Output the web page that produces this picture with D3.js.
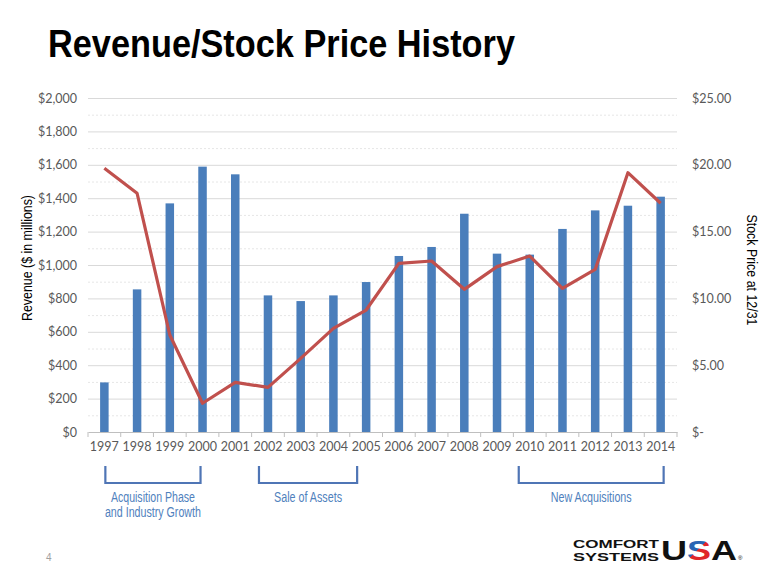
<!DOCTYPE html>
<html><head><meta charset="utf-8">
<script src="https://cdn.jsdelivr.net/npm/d3@7"></script>
<style>body{margin:0;background:#fff}svg{display:block}</style>
</head><body>
<svg id="c" width="780" height="585"></svg>
<script>
const years = ["1997","1998","1999","2000","2001","2002","2003","2004","2005","2006","2007","2008","2009","2010","2011","2012","2013","2014"];
const revenue = [297,854,1369,1589,1543,818,784,818,898,1054,1108,1307,1068,1062,1216,1327,1355,1409];
const stockPrice = [19.74,17.87,7.26,2.15,3.72,3.34,5.51,7.76,9.13,12.62,12.80,10.68,12.38,13.17,10.75,12.17,19.41,17.12];
const leftTicks = [0,200,400,600,800,1000,1200,1400,1600,1800,2000];
const rightTicks = [0,5,10,15,20,25];
const phaseNames = [["Acquisition Phase","and Industry Growth"],["Sale of Assets"],["New Acquisitions"]];
const phaseFrom = ["1997","2002","2010"];
const phaseTo = ["2000","2005","2014"];

const svg = d3.select("#c");
const L=88, R=677, T=98, B=432;
const x = d3.scaleBand().domain(years).range([L,R]);
const yL = d3.scaleLinear().domain([0,2000]).range([B,T]);
const yR = d3.scaleLinear().domain([0,25]).range([B,T]);
const tickFont = "Lato, 'Open Sans', sans-serif";
const narrow = "'Liberation Sans Narrow','Liberation Sans',Arial,sans-serif";

// title
svg.append("text").attr("x",48).attr("y",57).attr("font-family","'Liberation Sans', Arial, sans-serif")
  .attr("font-weight","bold").attr("font-size",39).attr("fill","#000")
  .attr("textLength",467).attr("lengthAdjust","spacingAndGlyphs").text("Revenue/Stock Price History");

// minor gridlines
const minor = d3.range(100,2000,200);
svg.append("g").selectAll("line").data(minor).join("line")
  .attr("x1",L).attr("x2",R).attr("y1",d=>yL(d)+0.5).attr("y2",d=>yL(d)+0.5)
  .attr("stroke","#e6e6e6").attr("stroke-width",1).attr("stroke-dasharray","2,2");
// major gridlines
svg.append("g").selectAll("line").data(leftTicks.slice(1)).join("line")
  .attr("x1",L).attr("x2",R).attr("y1",d=>yL(d)+0.5).attr("y2",d=>yL(d)+0.5)
  .attr("stroke","#d9d9d9").attr("stroke-width",1);

// bars
const bw = x.bandwidth()*0.26;
svg.append("g").selectAll("rect").data(revenue).join("rect")
  .attr("x",(d,i)=>x(years[i])+x.bandwidth()/2-bw/2).attr("width",bw)
  .attr("y",d=>yL(d)).attr("height",d=>B-yL(d)).attr("fill","#4a7ebb");

// x axis
const gx = svg.append("g").attr("transform",`translate(0,${B})`).call(d3.axisBottom(x).tickSize(0).tickPadding(10));
gx.select(".domain").attr("stroke","#bfbfbf");
gx.selectAll("text").attr("font-family",tickFont).attr("font-size",12.5).attr("fill","#595959");
gx.selectAll("line.sep").data(years.concat(["end"])).join("line").attr("class","sep")
  .attr("x1",(d,i)=>L+i*x.step()).attr("x2",(d,i)=>L+i*x.step()).attr("y1",0).attr("y2",5)
  .attr("stroke","#bfbfbf");

// left axis
const gl = svg.append("g").attr("transform",`translate(${L},0)`)
  .call(d3.axisLeft(yL).tickValues(leftTicks).tickSize(0).tickPadding(11).tickFormat(d=>"$"+d3.format(",")(d)));
gl.select(".domain").remove();
gl.selectAll("text").attr("font-family",tickFont).attr("font-size",12.5).attr("fill","#595959");

// right axis
const gr = svg.append("g").attr("transform",`translate(${R},0)`)
  .call(d3.axisRight(yR).tickValues(rightTicks).tickSize(0).tickPadding(15).tickFormat(d=>d===0?"$-":"$"+d.toFixed(2)));
gr.select(".domain").remove();
gr.selectAll("text").attr("font-family",tickFont).attr("font-size",12.5).attr("fill","#595959");

// axis titles
svg.append("text").attr("transform","translate(32,258) rotate(-90)").attr("text-anchor","middle")
  .attr("font-family",narrow).attr("font-size",15).attr("fill","#000")
  .attr("textLength",126).attr("lengthAdjust","spacingAndGlyphs").text("Revenue ($ in millions)");
svg.append("text").attr("transform","translate(747,270) rotate(90)").attr("text-anchor","middle")
  .attr("font-family",narrow).attr("font-size",15).attr("fill","#000")
  .attr("textLength",111).attr("lengthAdjust","spacingAndGlyphs").text("Stock Price at 12/31");

// line
const line = d3.line().x((d,i)=>x(years[i])+x.bandwidth()/2).y(d=>yR(d));
svg.append("path").datum(stockPrice).attr("d",line).attr("fill","none")
  .attr("stroke","#c0504d").attr("stroke-width",3.2).attr("stroke-linejoin","round");

// phase brackets (hand-placed offsets from band centres, as in the slide)
const offFrom = [1,-9,-11], offTo = [-2,-9,3];
const labelW = [[84,96],[68],[81]];
const bt=466, bb=483;
phaseNames.forEach((lines,j)=>{
  const x1 = x(phaseFrom[j])+x.bandwidth()/2+offFrom[j], x2 = x(phaseTo[j])+x.bandwidth()/2+offTo[j];
  svg.append("path").attr("d",`M${x1},${bt}V${bb}H${x2}V${bt}`).attr("fill","none")
    .attr("stroke","#4f75b5").attr("stroke-width",2.2);
  lines.forEach((t,k)=>{
    svg.append("text").attr("x",(x1+x2)/2).attr("y",502+k*15).attr("text-anchor","middle")
      .attr("font-family",narrow).attr("font-size",14)
      .attr("textLength",labelW[j][k]).attr("lengthAdjust","spacingAndGlyphs")
      .attr("fill","#4f81bd").text(t);
  });
});

// page number
svg.append("text").attr("x",46).attr("y",561).attr("font-family","'Liberation Sans',Arial").attr("font-size",10).attr("fill","#a0a0a0").text("4");

// logo
const defs = svg.append("defs");
const gr2 = defs.append("linearGradient").attr("id","sg").attr("gradientUnits","userSpaceOnUse")
  .attr("x1",686).attr("y1",541).attr("x2",706).attr("y2",561);
gr2.append("stop").attr("offset","0.5").attr("stop-color","#2a64b4");
gr2.append("stop").attr("offset","0.5").attr("stop-color","#e0262b");
const lg = svg.append("g").attr("font-family","'Liberation Sans',Arial,sans-serif").attr("font-weight","bold");
lg.append("text").attr("x",573).attr("y",547.5).attr("font-size",11.2).attr("fill","#111")
  .attr("textLength",86).attr("lengthAdjust","spacingAndGlyphs").text("COMFORT");
lg.append("text").attr("x",573).attr("y",560.5).attr("font-size",11.2).attr("fill","#111")
  .attr("textLength",86).attr("lengthAdjust","spacingAndGlyphs").text("SYSTEMS");
const usa = lg.append("text").attr("x",661).attr("y",560).attr("font-size",28).attr("textLength",76).attr("lengthAdjust","spacingAndGlyphs");
usa.append("tspan").attr("fill","#111").text("U");
usa.append("tspan").attr("fill","url(#sg)").text("S");
usa.append("tspan").attr("fill","#111").text("A");
lg.append("text").attr("x",738).attr("y",560).attr("font-size",6).attr("font-weight","normal").text("®");
</script>
</body></html>
